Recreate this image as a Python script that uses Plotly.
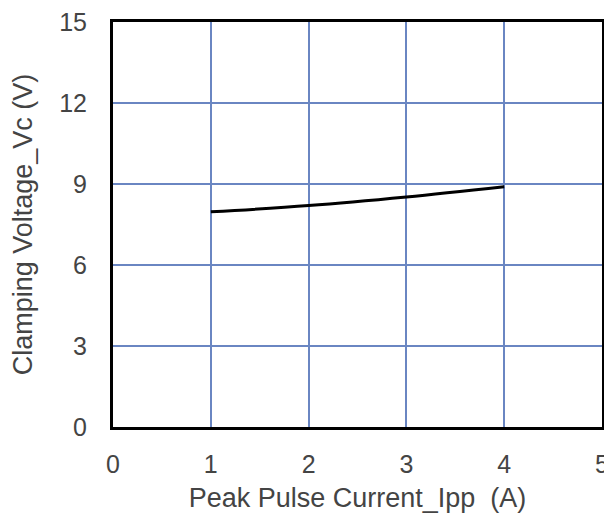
import plotly.graph_objects as go

ipp = [1, 2, 3, 4]
vc = [7.97, 8.2, 8.52, 8.9]
x_ticks = [0, 1, 2, 3, 4, 5]
y_ticks = [0, 3, 6, 9, 12, 15]

fig = go.Figure()
fig.add_trace(go.Scatter(x=ipp, y=vc, mode="lines", line=dict(color="black", width=3, shape="spline"), showlegend=False))

tick_font = dict(family="Liberation Sans, Arial", size=25, color="#444444")
title_font = dict(family="Liberation Sans, Arial", size=27, color="#444444")
grid = "#6a86c2"
fig.update_layout(
    width=604, height=511,
    margin=dict(l=105, r=10, t=14, b=92),
    paper_bgcolor="white", plot_bgcolor="white",
    font=tick_font,
    xaxis=dict(range=[0, 5], tickvals=x_ticks, showgrid=True, gridcolor=grid, gridwidth=1.5,
               showline=True, linecolor="black", linewidth=3, mirror=True, zeroline=False,
               automargin=False, ticklabeloverflow="allow",
               ticklabelstandoff=13, tickfont=tick_font,
               title=dict(text="Peak Pulse Current_Ipp\u00a0 (A)", font=title_font, standoff=12)),
    yaxis=dict(range=[0, 15], tickvals=y_ticks, showgrid=True, gridcolor=grid, gridwidth=1.5,
               showline=True, linecolor="black", linewidth=3, mirror=True, zeroline=False,
               automargin=False, ticklabeloverflow="allow",
               ticklabelstandoff=18, tickfont=tick_font,
               title=dict(text="Clamping Voltage_Vc (V)", font=title_font, standoff=25)),
)
fig.write_html("out.html")
